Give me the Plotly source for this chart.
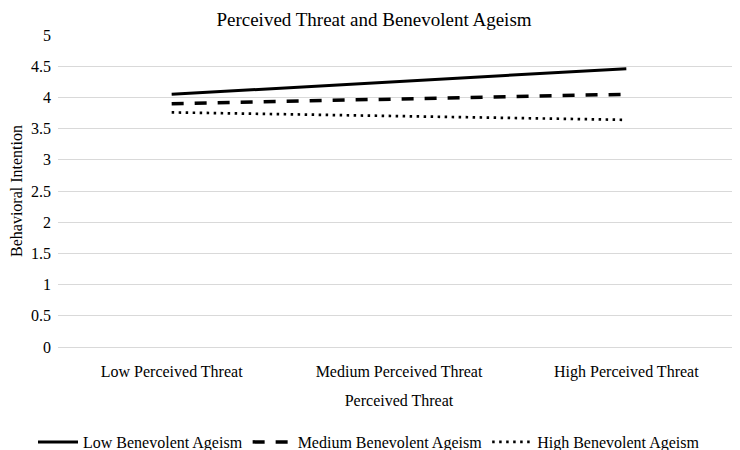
import plotly.graph_objects as go

categories = ["Low Perceived Threat", "Medium Perceived Threat", "High Perceived Threat"]
low_ageism = [4.05, 4.26, 4.46]
medium_ageism = [3.90, 3.98, 4.05]
high_ageism = [3.76, 3.70, 3.64]
y_ticks = [0, 0.5, 1, 1.5, 2, 2.5, 3, 3.5, 4, 4.5, 5]
y_tick_labels = ["0", "0.5", "1", "1.5", "2", "2.5", "3", "3.5", "4", "4.5", "5"]

FONT = "Liberation Serif, Times New Roman, serif"

fig = go.Figure()
fig.add_trace(go.Scatter(x=categories, y=low_ageism, mode="lines", name="Low Benevolent Ageism",
                         line=dict(color="black", width=3)))
fig.add_trace(go.Scatter(x=categories, y=medium_ageism, mode="lines", name="Medium Benevolent Ageism",
                         line=dict(color="black", width=3.5, dash="12px,11px")))
fig.add_trace(go.Scatter(x=categories, y=high_ageism, mode="lines", name="High Benevolent Ageism",
                         line=dict(color="black", width=2.7, dash="2.5px,4.5px")))

# the page has an 8px body margin, so the figure is drawn at (8, 8) in the window
fig.update_layout(
    width=732, height=442,
    margin=dict(l=50, r=0, t=27, b=103, autoexpand=False),
    paper_bgcolor="white", plot_bgcolor="white",
    font=dict(family=FONT, size=16, color="black"),
    title=dict(text="Perceived Threat and Benevolent Ageism", x=0.5, xanchor="center",
               y=1.0, yanchor="top", pad=dict(t=5, b=0),
               font=dict(family=FONT, size=19, color="black")),
    showlegend=True,
    legend=dict(orientation="h", x=(361 - 50) / 682, xanchor="center",
                y=(339 - 434) / 312, yanchor="middle", font=dict(family=FONT, size=16),
                itemwidth=40, tracegroupgap=0),
)
fig.update_xaxes(
    type="category", categoryorder="array", categoryarray=categories,
    showgrid=False, showline=False, zeroline=False, ticks="",
    ticklabelstandoff=13, automargin=False,
    title=dict(text="Perceived Threat", standoff=14, font=dict(family=FONT, size=16)),
    range=[-0.5, 2.5],
)
fig.update_yaxes(
    range=[0, 5], tickvals=y_ticks, ticktext=y_tick_labels,
    showgrid=True, gridcolor="#d9d9d9", gridwidth=1,
    zeroline=True, zerolinecolor="#d9d9d9", zerolinewidth=1,
    showline=False, ticks="", automargin=False, ticklabelstandoff=6,
    title=dict(text="Behavioral Intention", standoff=6, font=dict(family=FONT, size=16)),
)

fig.write_html("out.html")
